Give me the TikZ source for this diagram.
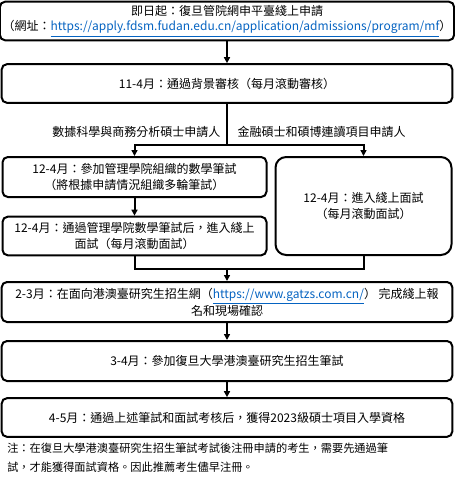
\documentclass[tikz,border=0pt]{standalone}
\usepackage{fontspec}
\setmainfont{Noto Sans CJK TC}
\usetikzlibrary{arrows.meta, positioning}
\definecolor{linkblue}{RGB}{5,99,193}
\newcommand{\weblink}[1]{\textcolor{linkblue}{\underline{#1}}}

\begin{document}
\begin{tikzpicture}[x=0.75pt, y=-0.75pt,
  stage/.style={rectangle, rounded corners=4pt, draw=black, line width=1.5pt, minimum width=338pt, minimum height=29pt, align=center, font=\fontsize{9}{11.5}\selectfont, inner sep=2pt},
  half/.style={stage, minimum width=198pt},
  tall/.style={stage, rounded corners=8pt, minimum width=132pt, minimum height=73.5pt},
  branch/.style={font=\fontsize{9}{11}\selectfont, inner sep=1pt},
  arrow/.style={-{Triangle[length=4.5pt,width=4.5pt]}, line width=1.5pt},
  link/.style={line width=1.5pt},
]
  \useasboundingbox (0,0) rectangle (454,489);

  \node[stage] (web) at (227,21) {即日起：復旦管院網申平臺綫上申請\\（網址：\weblink{https://apply.fdsm.fudan.edu.cn/application/admissions/program/mf}）};
  \node[stage] (review) at (227,83.5) {11-4月：通過背景審核（每月滾動審核）};

  \coordinate (split) at (227,145);
  \node[branch, anchor=east] (dsba) at (222,132) {數據科學與商務分析碩士申請人};
  \node[branch, anchor=west] (fin) at (236,132) {金融碩士和碩博連讀項目申請人};

  \node[half, minimum height=30pt] (mathtest) at (134.5,177) {12-4月：參加管理學院組織的數學筆試\\（將根據申請情況組織多輪筆試）};
  \node[half] (onlineA) at (134.5,236) {12-4月：通過管理學院數學筆試后，進入綫上\\面試（每月滾動面試）};
  \node[tall] (onlineB) at (363.5,206) {12-4月：進入綫上面試\\（每月滾動面試）};

  \coordinate (merge) at (227,269);
  \node[stage, minimum height=30pt] (register) at (227,302) {2-3月：在面向港澳臺研究生招生網（\weblink{https://www.gatzs.com.cn/}） 完成綫上報\\名和現場確認};
  \node[stage, minimum height=30pt] (exam) at (227,361) {3-4月：參加復旦大學港澳臺研究生招生筆試};
  \node[stage] (admit) at (227,417.5) {4-5月：通過上述筆試和面試考核后，獲得2023級碩士項目入學資格};

  \node[anchor=north west, align=left, inner sep=0pt, font=\fontsize{8.4}{14}\selectfont] (note) at (7,443) {注：在復旦大學港澳臺研究生招生筆試考試後注冊申請的考生，需要先通過筆\\試，才能獲得面試資格。因此推薦考生儘早注冊。};

  \draw[arrow] (web) -- (review);
  \draw[link] (review) -- (split);
  \draw[arrow] (split) -| (mathtest.north);
  \draw[arrow] (split) -| (onlineB.north);
  \draw[arrow] (mathtest) -- (onlineA);
  \draw[link] (onlineA.south) |- (merge);
  \draw[link] (onlineB.south) |- (merge);
  \draw[arrow] (merge) -- (register);
  \draw[arrow] (register) -- (exam);
  \draw[arrow] (exam) -- (admit);
\end{tikzpicture}
\end{document}
